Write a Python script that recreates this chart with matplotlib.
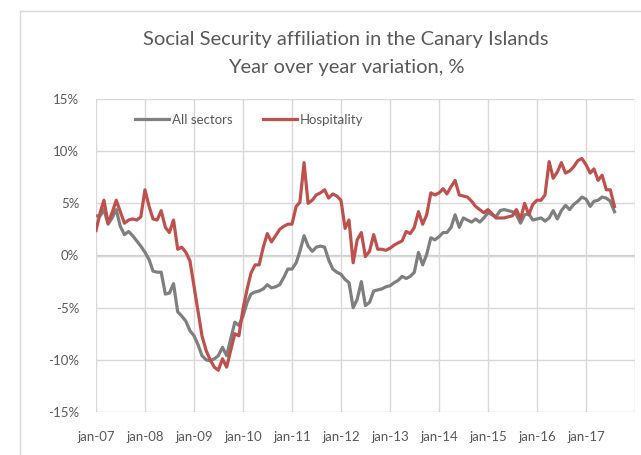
import numpy as np
import pandas as pd
import matplotlib
matplotlib.use("Agg")
import matplotlib.pyplot as plt

# year over year variation, %, monthly from jan-07
all_sectors = [3.8, 3.8, 4.4, 3.0, 3.6, 4.4, 2.8, 2.0, 2.3, 1.9, 1.4, 0.9,
               0.3, -0.4, -1.5, -1.6, -1.6, -3.7, -3.6, -2.7, -5.4, -5.8, -6.3, -7.2,
               -7.7, -8.6, -9.6, -10.0, -10.1, -9.9, -9.6, -8.8, -9.6, -8.0, -6.4, -6.7,
               -5.8, -4.5, -3.7, -3.5, -3.4, -3.2, -2.8, -3.1, -3.0, -2.8, -2.1, -1.3,
               -1.3, -0.7, 0.4, 1.9, 0.9, 0.4, 0.8, 0.9, 0.8, -0.4, -1.3, -1.6,
               -1.8, -2.3, -2.6, -5.0, -4.2, -2.5, -4.8, -4.5, -3.4, -3.3, -3.2, -3.0,
               -2.9, -2.6, -2.4, -2.0, -2.2, -2.0, -1.6, 0.3, -0.9, 0.1, 1.7, 1.5,
               1.8, 2.2, 2.2, 2.7, 3.9, 2.7, 3.6, 3.4, 3.2, 3.5, 3.2, 3.6,
               4.1, 3.9, 3.7, 4.3, 4.4, 4.3, 4.2, 3.9, 3.1, 3.9, 4.0, 3.4,
               3.5, 3.6, 3.3, 3.6, 4.3, 3.5, 4.3, 4.8, 4.4, 4.9, 5.2, 5.6,
               5.4, 4.7, 5.2, 5.3, 5.6, 5.5, 5.2, 4.2]

hospitality = [2.4, 4.1, 5.3, 3.1, 4.1, 5.3, 4.2, 3.1, 3.4, 3.5, 3.4, 3.7,
               6.3, 4.7, 3.5, 3.4, 4.3, 2.7, 2.2, 3.4, 0.6, 0.8, 0.3, -0.5,
               -3.0, -5.5, -7.7, -9.1, -10.0, -10.7, -11.0, -9.9, -10.7, -9.1, -7.5, -7.7,
               -5.1, -3.2, -1.7, -0.9, -0.9, 0.8, 2.1, 1.3, 1.9, 2.5, 2.8, 3.0,
               3.0, 4.7, 5.1, 8.9, 5.0, 5.3, 5.8, 6.0, 6.3, 5.5, 5.9, 5.7,
               5.3, 2.6, 3.4, -0.7, 1.5, 2.2, -0.1, 0.4, 2.0, 0.6, 0.6, 0.5,
               0.7, 1.0, 1.2, 1.4, 2.3, 2.1, 2.7, 4.2, 3.0, 3.9, 6.0, 5.8,
               6.0, 6.4, 5.9, 6.6, 7.2, 5.8, 5.7, 5.6, 5.2, 4.7, 4.4, 4.1,
               4.4, 4.0, 3.6, 3.6, 3.6, 3.7, 3.8, 4.4, 3.5, 5.0, 3.9, 4.9,
               5.3, 5.3, 5.8, 9.0, 7.4, 8.0, 8.9, 7.9, 8.1, 8.5, 9.1, 9.3,
               8.7, 7.9, 8.3, 7.2, 7.7, 6.3, 6.3, 4.7]

months = pd.date_range("2007-01-01", periods=len(all_sectors), freq="MS")
year_ticks = pd.date_range("2007-01-01", "2018-01-01", freq="YS")
y_ticks = [-15, -10, -5, 0, 5, 10, 15]

txt = "#595959"
grid = "#d9d9d9"
plt.rcParams["font.family"] = ["Lato", "DejaVu Sans"]

fig = plt.figure(figsize=(6.41, 4.55), dpi=100)
ax = fig.add_axes([96/641, 1 - 412/455, (635 - 96)/641, (412 - 99)/455])

ax.plot(months, all_sectors, color="#7f7f7f", lw=2.3, label="All sectors", zorder=3)
ax.plot(months, hospitality, color="#c0504d", lw=2.3, label="Hospitality", zorder=3)

ax.set_xlim(year_ticks[0], year_ticks[-1])
ax.set_ylim(-15, 15)
ax.set_xticks(year_ticks)
ax.set_xticklabels([d.strftime("%b-%y").lower() for d in year_ticks[:-1]] + [""])
ax.set_yticks(y_ticks)
ax.set_yticklabels(["%d%%" % v for v in y_ticks])

ax.grid(True, color=grid, lw=1.0, zorder=0)
ax.axhline(0, color="#d0d0d0", lw=1.6, zorder=1)
for s in ax.spines.values():
    s.set_visible(False)
ax.tick_params(length=0, labelsize=9.5, colors=txt)
ax.tick_params(axis="x", pad=14)
ax.tick_params(axis="y", pad=12)

ax.legend(loc="upper left", bbox_to_anchor=(0.05, 0.99), ncol=2, frameon=False,
          fontsize=9.5, labelcolor=txt, handlelength=2.6, handletextpad=0.2,
          columnspacing=2.3)

fig.text(346/641, 1 - 40/455, "Social Security affiliation in the Canary Islands",
         ha="center", va="center", fontsize=14.5, color=txt)
fig.text(346/641, 1 - 68/455, "Year over year variation, %",
         ha="center", va="center", fontsize=14.5, color=txt)

# outer chart border
fig.add_artist(plt.Line2D([20/641, 20/641], [0, 1 - 11/455], color=grid, lw=1.0))
fig.add_artist(plt.Line2D([20/641, 1], [1 - 11/455, 1 - 11/455], color=grid, lw=1.0))

fig.savefig("out.png", dpi=100)
